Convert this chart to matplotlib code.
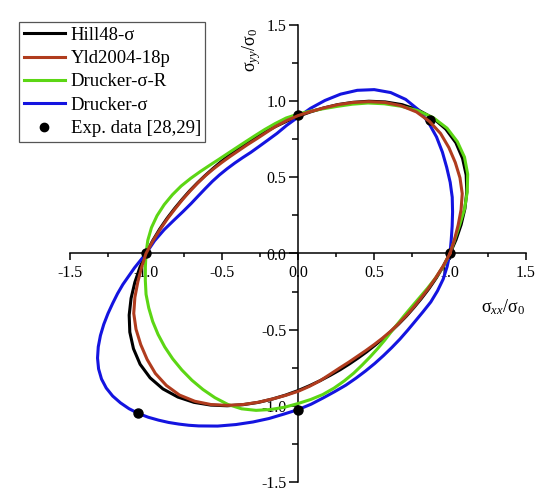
#----Modules----#
import numpy as np
import matplotlib.pyplot as plt
from matplotlib.lines import Line2D
from matplotlib.ticker import MultipleLocator, FormatStrFormatter

#----Fonts----#
plt.rcParams['font.family'] = ['Liberation Serif', 'DejaVu Sans']
plt.rcParams['mathtext.fontset'] = 'custom'
plt.rcParams['mathtext.rm'] = 'Liberation Serif'
plt.rcParams['mathtext.it'] = 'Liberation Serif:italic'
plt.rcParams['axes.unicode_minus'] = False

#----Data: radius of each yield locus against angle (deg)----#
angles = list(range(0, 360, 5))

hill48_r = [1.000, 1.044, 1.090, 1.137, 1.182, 1.221, 1.250, 1.268, 1.270, 1.257, 1.230, 1.193,
            1.149, 1.103, 1.056, 1.012, 0.970, 0.933, 0.900, 0.871, 0.847, 0.827, 0.812, 0.800,
            0.792, 0.788, 0.787, 0.790, 0.797, 0.808, 0.823, 0.841, 0.864, 0.892, 0.924, 0.960,
            1.000, 1.044, 1.090, 1.137, 1.182, 1.221, 1.250, 1.268, 1.270, 1.257, 1.230, 1.193,
            1.149, 1.103, 1.056, 1.012, 0.970, 0.933, 0.900, 0.871, 0.847, 0.827, 0.812, 0.800,
            0.792, 0.788, 0.787, 0.790, 0.797, 0.808, 0.823, 0.841, 0.864, 0.892, 0.924, 0.960]

yld2004_r = [1.000, 1.033, 1.070, 1.111, 1.150, 1.176, 1.195, 1.212, 1.225, 1.225, 1.213, 1.184,
             1.145, 1.100, 1.055, 1.011, 0.970, 0.935, 0.905, 0.875, 0.847, 0.820, 0.800, 0.788,
             0.780, 0.778, 0.780, 0.786, 0.795, 0.806, 0.820, 0.838, 0.860, 0.888, 0.920, 0.958,
             1.000, 1.033, 1.070, 1.111, 1.150, 1.176, 1.195, 1.212, 1.225, 1.225, 1.213, 1.184,
             1.145, 1.100, 1.055, 1.011, 0.970, 0.935, 0.905, 0.875, 0.847, 0.820, 0.800, 0.788,
             0.780, 0.778, 0.780, 0.786, 0.795, 0.806, 0.820, 0.838, 0.860, 0.888, 0.920, 0.958]

drucker_R_r = [1.000, 1.035, 1.080, 1.135, 1.185, 1.232, 1.265, 1.280, 1.280, 1.260, 1.225, 1.180,
               1.135, 1.090, 1.043, 1.000, 0.965, 0.938, 0.915, 0.893, 0.866, 0.843, 0.824, 0.811,
               0.804, 0.803, 0.808, 0.820, 0.838, 0.861, 0.887, 0.912, 0.937, 0.960, 0.979, 0.992,
               1.000, 1.008, 1.020, 1.035, 1.045, 1.055, 1.063, 1.070, 1.076, 1.081, 1.086, 1.090,
               1.093, 1.093, 1.085, 1.066, 1.040, 1.013, 0.985, 0.962, 0.940, 0.915, 0.890, 0.867,
               0.845, 0.828, 0.815, 0.806, 0.800, 0.802, 0.810, 0.826, 0.850, 0.882, 0.920, 0.960]

# Drucker-sigma bulges to the lower left, read there every 2.5 degrees
drucker_angles = (list(range(0, 190, 5))
                  + [190, 192.5, 195, 197.5, 200, 202.5, 205, 207.5, 210, 212.5,
                     215, 217.5, 220, 222.5, 225, 227.5, 230, 232.5, 235, 237.5]
                  + list(range(240, 360, 5)))
drucker_r = [1.000, 1.012, 1.030, 1.053, 1.080, 1.105, 1.130, 1.160, 1.190, 1.215, 1.232, 1.235,
             1.220, 1.187, 1.140, 1.083, 1.020, 0.957, 0.895, 0.845, 0.800, 0.770, 0.748, 0.733,
             0.727, 0.725, 0.726, 0.730, 0.736, 0.744, 0.757, 0.776, 0.805, 0.845, 0.895, 0.948,
             1.000, 1.080,
             1.170, 1.216, 1.262, 1.311, 1.360, 1.407, 1.450, 1.487, 1.515, 1.533,
             1.540, 1.537, 1.525, 1.508, 1.485, 1.458, 1.428, 1.398, 1.367, 1.337,
             1.307, 1.250, 1.195, 1.145, 1.100, 1.058, 1.025, 0.993, 0.962, 0.938, 0.920, 0.903,
             0.890, 0.881, 0.875, 0.873, 0.875, 0.880, 0.890, 0.907, 0.930, 0.950, 0.970, 0.985]

exp_x = [1.0, 0.87, 0.0, -1.0, -1.05, 0.0]
exp_y = [0.0, 0.875, 0.91, 0.0, -1.05, -1.025]

ticks = [-1.5, -1.0, -0.5, 0.0, 0.5, 1.0, 1.5]


#----Functions----#
def locus(ang, radii):
    # closed curve in the (sxx, syy) plane
    t = np.radians(list(ang) + [ang[0]])
    r = np.array(list(radii) + [radii[0]])
    return r * np.cos(t), r * np.sin(t)


#----Plot----#
fig = plt.figure(figsize=(5.5, 5), dpi=100)
ax = fig.add_axes([0.1273, 0.036, 0.829, 0.914])

lw = 2.2
x, y = locus(angles, hill48_r)
ax.plot(x, y, color='black', lw=lw, zorder=3)
x, y = locus(drucker_angles, drucker_r)
ax.plot(x, y, color='#1414E0', lw=lw, zorder=3)
x, y = locus(angles, drucker_R_r)
ax.plot(x, y, color='#5CD614', lw=lw, zorder=3)
ax.plot(exp_x, exp_y, 'o', color='black', ms=6.5, zorder=4)
x, y = locus(angles, yld2004_r)
ax.plot(x, y, color='#B03C1E', lw=lw, zorder=5)

ax.set_xlim(-1.5, 1.5)
ax.set_ylim(-1.5, 1.5)

# axes crossing at the origin
ax.spines['left'].set_position(('data', 0))
ax.spines['bottom'].set_position(('data', 0))
ax.spines['top'].set_visible(False)
ax.spines['right'].set_visible(False)
for s in ['left', 'bottom']:
    ax.spines[s].set_linewidth(1.1)

ax.set_xticks(ticks)
ax.set_yticks(ticks)
ax.xaxis.set_minor_locator(MultipleLocator(0.25))
ax.yaxis.set_minor_locator(MultipleLocator(0.25))
ax.xaxis.set_major_formatter(FormatStrFormatter('%.1f'))
ax.yaxis.set_major_formatter(FormatStrFormatter('%.1f'))
ax.tick_params(axis='x', which='major', direction='out', length=5, width=1.1, labelsize=11.5, pad=3)
ax.tick_params(axis='x', which='minor', direction='out', length=3, width=1.1)
ax.tick_params(axis='y', which='major', direction='out', length=6.5, width=1.1, labelsize=11.5, pad=2)
ax.tick_params(axis='y', which='minor', direction='out', length=4.5, width=1.1)

ax.text(0.399, 0.945, r'$\mathrm{σ}_{yy}/\mathrm{σ}_0$', transform=ax.transAxes,
        rotation=90, ha='center', va='center', fontsize=13)
ax.text(0.95, 0.383, r'$\mathrm{σ}_{xx}/\mathrm{σ}_0$', transform=ax.transAxes,
        ha='center', va='center', fontsize=13)

handles = [
    Line2D([], [], color='black', lw=lw),
    Line2D([], [], color='#B03C1E', lw=lw),
    Line2D([], [], color='#5CD614', lw=lw),
    Line2D([], [], color='#1414E0', lw=lw),
    Line2D([], [], color='black', marker='o', ls='none', ms=6),
]
labels = ['Hill48-σ', 'Yld2004-18p', 'Drucker-σ-R', 'Drucker-σ', 'Exp. data [28,29]']
leg = ax.legend(handles, labels, loc='upper left', bbox_to_anchor=(0.0345, 0.956),
                bbox_transform=fig.transFigure, borderaxespad=0, fontsize=13.5,
                frameon=True, fancybox=False, framealpha=1, edgecolor='#555555',
                handlelength=2.2, handletextpad=0.3, labelspacing=0.33, borderpad=0.25,
                numpoints=1)
leg.get_frame().set_linewidth(0.9)

plt.savefig('out.png', dpi=100)
